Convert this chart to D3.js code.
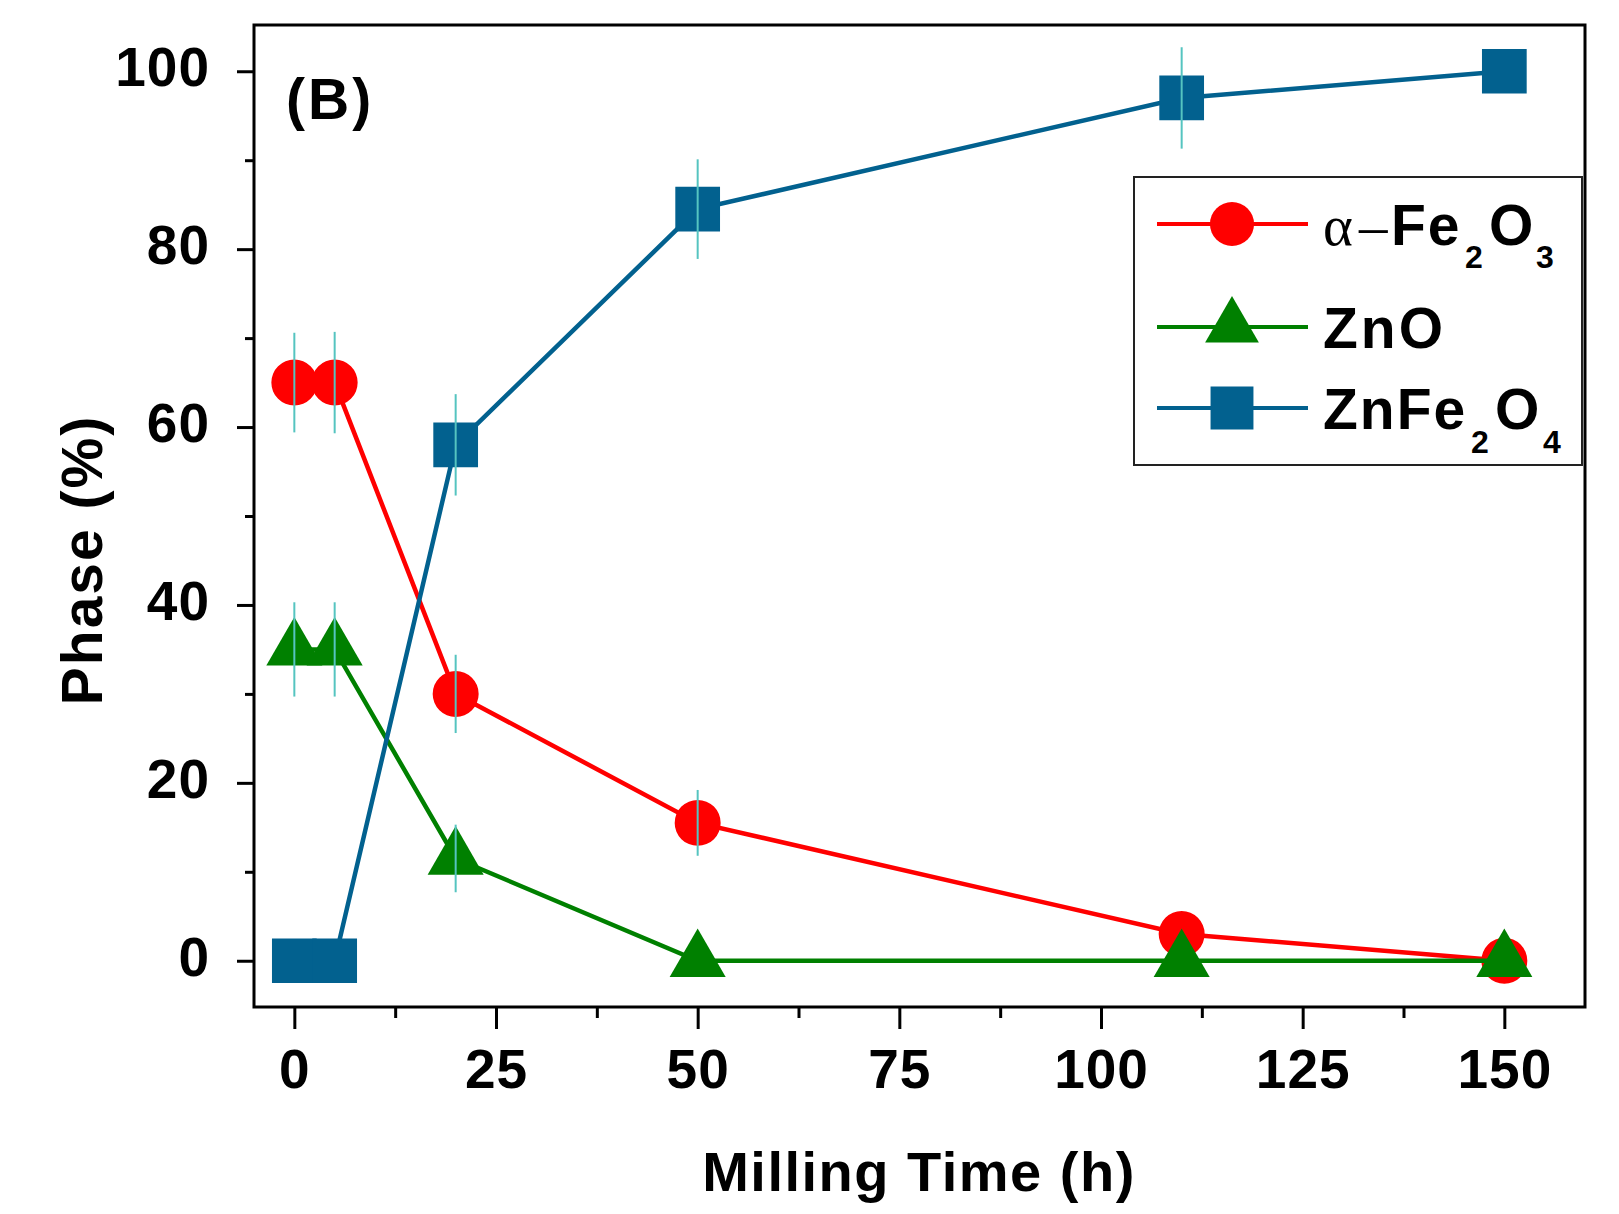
<!DOCTYPE html>
<html>
<head>
<meta charset="utf-8">
<script src="https://cdn.jsdelivr.net/npm/d3@7"></script>
<style>
    body { margin: 0; background: #fff; }
    svg { display: block; font-family: "Liberation Sans", Arial, sans-serif; font-weight: bold; }
</style>
</head>
<body>
<div class="chart"></div>
<script>
// values
const millingTime = [0, 5, 20, 50, 110, 150];
const fe2o3 = [65, 65, 30, 15.5, 3, 0];
const fe2o3Err = [5.6, 5.7, 4.4, 3.7, 0, 0];
const zno = [35, 35, 11.5, 0, 0, 0];
const znoErr = [5.3, 5.3, 3.8, 0, 0, 0];
const znfe2o4 = [0, 0, 58, 84.5, 97, 100];
const znfe2o4Err = [0, 0, 5.7, 5.6, 5.7, 0];

const xTicks = [0, 25, 50, 75, 100, 125, 150];
const xMinorTicks = [12.5, 37.5, 62.5, 87.5, 112.5, 137.5];
const yTicks = [0, 20, 40, 60, 80, 100];
const yMinorTicks = [10, 30, 50, 70, 90];

function init() {
    const w = 1619;
    const h = 1214;
    const left = 254, right = 1585, top = 25, bottom = 1007;

    const x = d3.scaleLinear().domain([-5, 160]).range([left, right]);
    const y = d3.scaleLinear().domain([-5.2, 105.2]).range([bottom, top]);

    const series = [
        { key: "fe", values: fe2o3, err: fe2o3Err, color: "#ff0000", symbol: d3.symbolCircle, size: 1660 },
        { key: "zno", values: zno, err: znoErr, color: "#008000", symbol: d3.symbolTriangle, size: 1360 },
        { key: "znfe", values: znfe2o4, err: znfe2o4Err, color: "#02618f", symbol: d3.symbolSquare, size: 2000 }
    ];

    const svg = d3.select(".chart")
        .append("svg")
        .attr("width", w)
        .attr("height", h);

    svg.append("rect")
        .attr("width", w)
        .attr("height", h)
        .attr("fill", "#fff");

    // axes
    svg.append("g")
        .attr("transform", `translate(0,${bottom})`)
        .call(d3.axisBottom(x).tickValues(xTicks).tickSize(22).tickPadding(20));
    svg.append("g")
        .attr("transform", `translate(0,${bottom})`)
        .call(d3.axisBottom(x).tickValues(xMinorTicks).tickSize(11).tickFormat(""));

    const yAxis = svg.append("g")
        .attr("transform", `translate(${left},0)`)
        .call(d3.axisLeft(y).tickValues(yTicks).tickSize(17).tickPadding(27));
    svg.append("g")
        .attr("transform", `translate(${left},0)`)
        .call(d3.axisLeft(y).tickValues(yMinorTicks).tickSize(9).tickFormat(""));

    svg.selectAll(".domain").remove();
    svg.selectAll(".tick line").attr("stroke", "#000").attr("stroke-width", 3);
    svg.selectAll(".tick text")
        .attr("fill", "#000")
        .style("font-family", "'Liberation Sans', Arial, sans-serif")
        .style("font-weight", "bold")
        .style("font-size", "55px")
        .style("letter-spacing", "1px");
    yAxis.selectAll(".tick text").attr("dy", "0.26em");

    // frame
    svg.append("rect")
        .attr("x", left)
        .attr("y", top)
        .attr("width", right - left)
        .attr("height", bottom - top)
        .attr("fill", "none")
        .attr("stroke", "#000")
        .attr("stroke-width", 3);

    // lines
    const line = d3.line()
        .x((d, i) => x(millingTime[i]))
        .y(d => y(d));

    series.forEach(s => {
        svg.append("path")
            .datum(s.values)
            .attr("d", line)
            .attr("fill", "none")
            .attr("stroke", s.color)
            .attr("stroke-width", 4.5);

        svg.selectAll(".pt-" + s.key)
            .data(s.values)
            .enter()
            .append("path")
            .attr("class", "pt-" + s.key)
            .attr("d", d3.symbol().type(s.symbol).size(s.size))
            .attr("transform", (d, i) => `translate(${x(millingTime[i])},${y(d)})`)
            .attr("fill", s.color);
    });

    // error bars on top of markers
    series.forEach(s => {
        svg.selectAll(".err-" + s.key)
            .data(s.values.map((v, i) => ({ t: millingTime[i], v: v, e: s.err[i] })).filter(d => d.e > 0))
            .enter()
            .append("line")
            .attr("x1", d => x(d.t))
            .attr("x2", d => x(d.t))
            .attr("y1", d => y(d.v + d.e))
            .attr("y2", d => y(d.v - d.e))
            .attr("stroke", "#55c4c0")
            .attr("stroke-width", 2);
    });

    // axis titles
    svg.append("text")
        .attr("x", 919)
        .attr("y", 1191)
        .attr("text-anchor", "middle")
        .style("font-size", "56px")
        .style("letter-spacing", "1.5px")
        .text("Milling Time (h)");

    svg.append("text")
        .attr("transform", "translate(102,560) rotate(-90)")
        .attr("text-anchor", "middle")
        .style("font-size", "57px")
        .style("letter-spacing", "2px")
        .text("Phase (%)");

    svg.append("text")
        .attr("x", 286)
        .attr("y", 119)
        .style("font-size", "57px")
        .style("letter-spacing", "3px")
        .text("(B)");

    // legend
    const legend = svg.append("g");
    legend.append("rect")
        .attr("x", 1134)
        .attr("y", 177)
        .attr("width", 448)
        .attr("height", 288)
        .attr("fill", "#fff")
        .attr("stroke", "#222")
        .attr("stroke-width", 2);

    const rowY = [224, 327, 408];
    series.forEach((s, i) => {
        const g = legend.append("g").attr("transform", `translate(0,${rowY[i]})`);
        g.append("line")
            .attr("x1", 1157)
            .attr("x2", 1308)
            .attr("stroke", s.color)
            .attr("stroke-width", 4);
        g.append("path")
            .attr("d", d3.symbol().type(s.symbol).size(s.size * 0.92))
            .attr("transform", "translate(1232,0)")
            .attr("fill", s.color);
    });

    function part(t, txt, px, sub) {
        return t.append("tspan")
            .attr("x", px)
            .attr("dy", sub)
            .style("font-size", sub > 0 ? "32px" : null)
            .text(txt);
    }

    const t1 = legend.append("text").attr("y", rowY[0] + 21).style("font-size", "57px").style("letter-spacing", "2px");
    part(t1, "α", 1323, 0).style("font-family", "'Liberation Serif', serif").style("font-weight", "normal");
    part(t1, "–", 1359, 0).style("font-family", "'Liberation Serif', serif").style("font-weight", "normal");
    part(t1, "Fe", 1391, 0);
    part(t1, "2", 1465, 23);
    part(t1, "O", 1489, -23);
    part(t1, "3", 1536, 23);

    legend.append("text")
        .attr("x", 1323)
        .attr("y", rowY[1] + 21)
        .style("font-size", "57px")
        .style("letter-spacing", "3px")
        .text("ZnO");

    const t3 = legend.append("text").attr("y", rowY[2] + 21).style("font-size", "57px").style("letter-spacing", "2px");
    part(t3, "ZnFe", 1323, 0);
    part(t3, "2", 1471, 24);
    part(t3, "O", 1495, -24);
    part(t3, "4", 1543, 24);
}

window.onload = init;
</script>
</body>
</html>
